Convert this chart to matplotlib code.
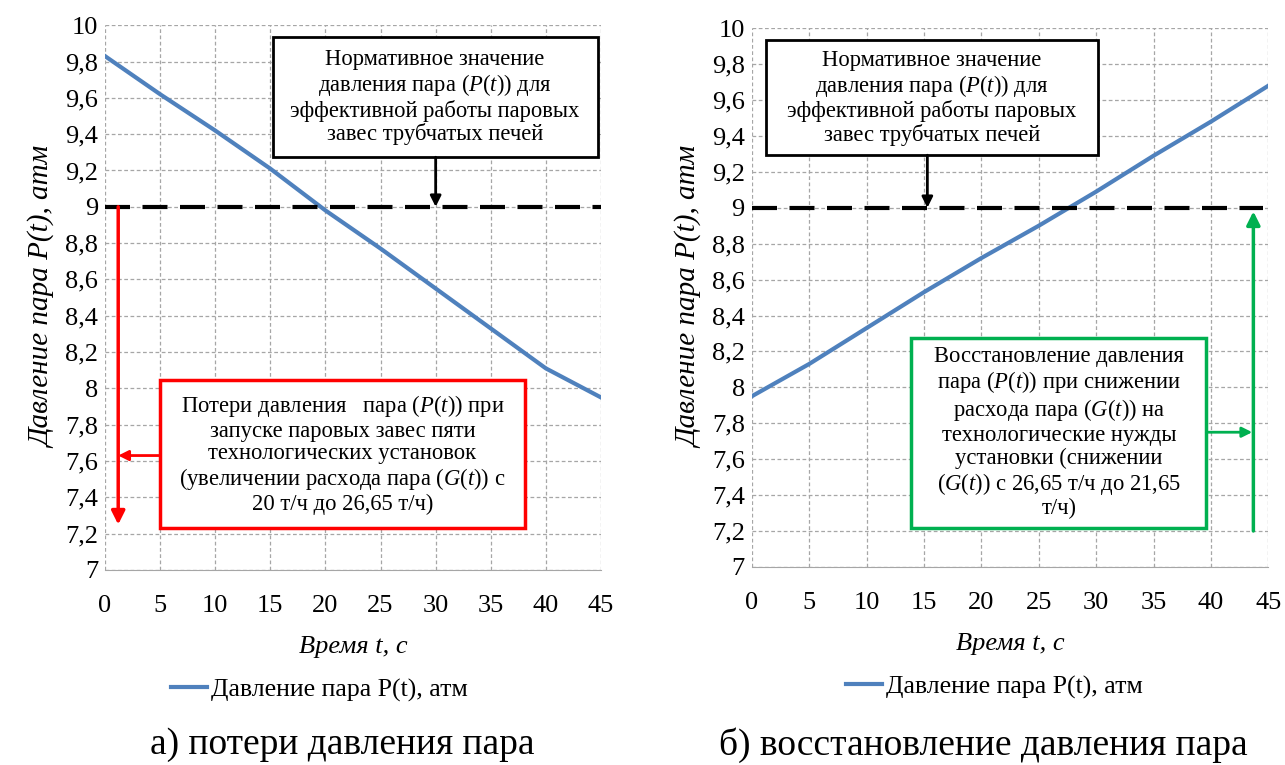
import matplotlib
matplotlib.use("Agg")
import matplotlib.pyplot as plt
from matplotlib.patches import Rectangle

plt.rcParams['font.family'] = ['Liberation Serif', 'DejaVu Serif']
plt.rcParams['mathtext.fontset'] = 'custom'
plt.rcParams['mathtext.rm'] = 'Liberation Serif'
plt.rcParams['mathtext.it'] = 'Liberation Serif:italic'

# ---- data ----
t = [0, 5, 10, 15, 20, 25, 30, 35, 40, 45]
p_loss = [9.83, 9.62, 9.42, 9.21, 8.98, 8.77, 8.55, 8.33, 8.11, 7.95]
p_recovery = [7.95, 8.13, 8.33, 8.53, 8.72, 8.90, 9.09, 9.29, 9.48, 9.68]
norm_value = 9.0
x_ticks = [0, 5, 10, 15, 20, 25, 30, 35, 40, 45]
y_ticks = [7.0, 7.2, 7.4, 7.6, 7.8, 8.0, 8.2, 8.4, 8.6, 8.8, 9.0, 9.2, 9.4, 9.6, 9.8, 10.0]
y_tick_labels = ["7", "7,2", "7,4", "7,6", "7,8", "8", "8,2", "8,4", "8,6", "8,8",
                 "9", "9,2", "9,4", "9,6", "9,8", "10"]
legend_label = "Давление пара P(t), атм"
x_label = "Время t, с"
y_label = "Давление пара P(t), атм"
captions = ["а) потери давления пара", "б) восстановление давления пара"]

norm_text = ("Нормативное значение\nдавления пара ($\\mathit{P(t)}$) для\n"
             "эффективной работы паровых\nзавес трубчатых печей")
loss_text = ("Потери давления   пара ($\\mathit{P(t)}$) при\nзапуске паровых завес пяти\n"
             "технологических установок\n(увеличении расхода пара ($\\mathit{G(t)}$) с\n"
             "20 т/ч до 26,65 т/ч)")
rec_text = ("Восстановление давления\nпара ($\\mathit{P(t)}$) при снижении\n"
            "расхода пара ($\\mathit{G(t)}$) на\nтехнологические нужды\n"
            "установки (снижении\n($\\mathit{G(t)}$) с 26,65 т/ч до 21,65\nт/ч)")

BLUE = '#4F81BD'
RED = '#FF0000'
GREEN = '#00B050'
BOXFS = 16.3
LS = 1.1

fig = plt.figure(figsize=(12.85, 7.65), dpi=100)
axL = fig.add_axes([0.0817, 0.255, 0.386, 0.712])
axR = fig.add_axes([0.585, 0.259, 0.402, 0.704])


def setup(ax):
    ax.set_xlim(0, 45)
    ax.set_ylim(7, 10)
    ax.set_xticks(x_ticks)
    ax.set_yticks(y_ticks)
    ax.set_yticklabels(y_tick_labels)
    ax.tick_params(length=0, labelsize=19)
    ax.tick_params(axis='y', pad=5)
    ax.tick_params(axis='x', pad=18)
    ax.grid(True, color='#A6A6A6', linestyle=(0, (3, 2)), linewidth=0.9)
    for s in ['top', 'right', 'left']:
        ax.spines[s].set_visible(False)
    ax.spines['bottom'].set_color('#A6A6A6')
    ax.set_axisbelow(True)
    ax.set_xlabel(x_label, fontsize=19, style='italic', labelpad=14)
    ax.set_ylabel(y_label, fontsize=21, style='italic', labelpad=6)


setup(axL)
setup(axR)

# ---- left panel ----
lineL, = axL.plot(t, p_loss, color=BLUE, lw=3, label=legend_label, zorder=3)
axL.plot([0, 45], [norm_value, norm_value], color='black', lw=3,
         linestyle=(0, (6, 3)), zorder=4)
axL.add_patch(Rectangle((15.2, 9.273), 44.7 - 15.2, 9.934 - 9.273, facecolor='white',
                        edgecolor='black', lw=2, zorder=5))
axL.text((15.2 + 44.7) / 2, (9.273 + 9.934) / 2, norm_text, ha='center', va='center',
         fontsize=BOXFS, linespacing=LS, zorder=6)
axL.annotate('', xy=(30, norm_value), xytext=(30, 9.273),
             arrowprops=dict(arrowstyle='-|>', color='black', lw=2, mutation_scale=16,
                             shrinkA=0, shrinkB=0), zorder=6)
# red
axL.annotate('', xy=(1.2, 7.25), xytext=(1.2, norm_value),
             arrowprops=dict(arrowstyle='-|>', color=RED, lw=2.5, mutation_scale=20,
                             shrinkA=0, shrinkB=0), zorder=6)
axL.add_patch(Rectangle((5.0, 7.232), 38.1 - 5.0, 8.046 - 7.232, facecolor='white',
                        edgecolor=RED, lw=2.5, zorder=5))
axL.text((5.0 + 38.1) / 2, (7.232 + 8.046) / 2, loss_text, ha='center', va='center',
         fontsize=BOXFS, linespacing=LS, zorder=6)
axL.annotate('', xy=(1.2, 7.63), xytext=(5.0, 7.63),
             arrowprops=dict(arrowstyle='-|>', color=RED, lw=2, mutation_scale=15,
                             shrinkA=0, shrinkB=0), zorder=6)

# ---- right panel ----
lineR, = axR.plot(t, p_recovery, color=BLUE, lw=3, label=legend_label, zorder=3)
axR.plot([0, 44.5], [norm_value, norm_value], color='black', lw=3,
         linestyle=(0, (6, 3)), zorder=4)
axR.add_patch(Rectangle((1.22, 9.293), 30.2 - 1.22, 9.933 - 9.293, facecolor='white',
                        edgecolor='black', lw=2, zorder=5))
axR.text((1.22 + 30.2) / 2, (9.293 + 9.933) / 2, norm_text, ha='center', va='center',
         fontsize=BOXFS, linespacing=LS, zorder=6)
axR.annotate('', xy=(15.3, norm_value), xytext=(15.3, 9.293),
             arrowprops=dict(arrowstyle='-|>', color='black', lw=2, mutation_scale=16,
                             shrinkA=0, shrinkB=0), zorder=6)
# green
axR.annotate('', xy=(43.7, norm_value - 0.02), xytext=(43.7, 7.2),
             arrowprops=dict(arrowstyle='-|>', color=GREEN, lw=2.5, mutation_scale=20,
                             shrinkA=0, shrinkB=0), zorder=6)
axR.add_patch(Rectangle((13.9, 7.218), 39.6 - 13.9, 8.275 - 7.218, facecolor='white',
                        edgecolor=GREEN, lw=2.5, zorder=5))
axR.text((13.9 + 39.6) / 2, (7.218 + 8.275) / 2, rec_text, ha='center', va='center',
         fontsize=BOXFS, linespacing=LS, zorder=6)
axR.annotate('', xy=(43.6, 7.75), xytext=(39.6, 7.75),
             arrowprops=dict(arrowstyle='-|>', color=GREEN, lw=2, mutation_scale=15,
                             shrinkA=0, shrinkB=0), zorder=6)

# legends
fig.legend(handles=[lineL], loc='center', bbox_to_anchor=(319 / 1285, 1 - 690 / 765),
           frameon=False, fontsize=18.5, handlelength=1.4, handletextpad=0.15)
fig.legend(handles=[lineR], loc='center', bbox_to_anchor=(994 / 1285, 1 - 687 / 765),
           frameon=False, fontsize=18.5, handlelength=1.4, handletextpad=0.15)

# captions
fig.text(342 / 1285, 1 - 745 / 765, captions[0], ha='center', va='center', fontsize=27)
fig.text(983 / 1285, 1 - 745 / 765, captions[1], ha='center', va='center', fontsize=27)

fig.savefig('out.png', dpi=100)
